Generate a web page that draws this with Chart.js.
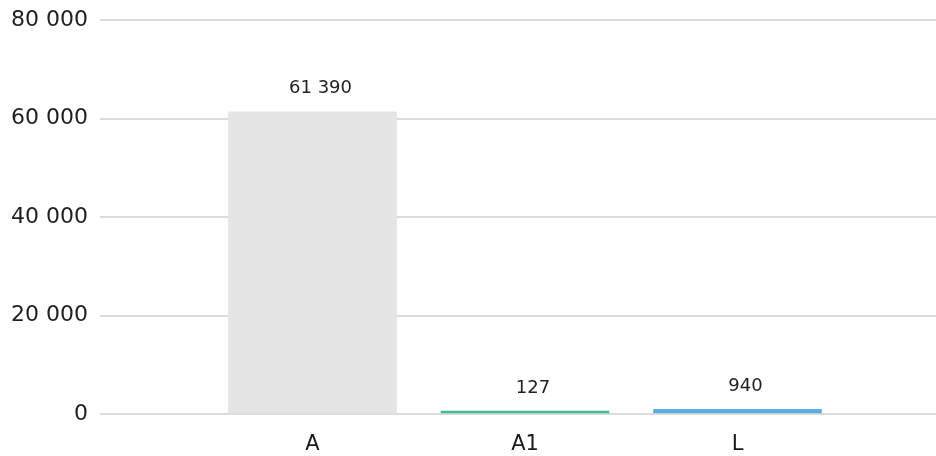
<!DOCTYPE html>
<html>
<head>
<meta charset="utf-8">
<script src="https://cdn.jsdelivr.net/npm/chart.js@4.4.1/dist/chart.umd.min.js"></script>
<style>
  html, body { margin: 0; padding: 0; background: #fff; overflow: hidden; }
  #wrap { position: relative; width: 936px; height: 456px; overflow: hidden; }
  #barChart { position: absolute; left: 0; top: -5px; width: 960px; height: 461px; max-width: none; }
</style>
</head>
<body>
<div id="wrap"><canvas id="barChart" width="960" height="461"></canvas></div>
<script>
// blank slots at both ends keep the bars spaced like the original
var categories = ["", "A", "A1", "L", ""];
var values = [null, 61390, 127, 940, null];
var barColors = ["#e5e5e5", "#e5e5e5", "#45bb9b", "#5aafe2", "#e5e5e5"];
var yTicks = [0, 20000, 40000, 60000, 80000];

function fmt(n) {
    return String(n).replace(/\B(?=(\d{3})+(?!\d))/g, " ");
}

var valueLabels = {
    id: "valueLabels",
    afterDatasetsDraw: function(chart) {
        var ctx = chart.ctx;
        var meta = chart.getDatasetMeta(0);
        ctx.save();
        ctx.font = "18px 'DejaVu Sans'";
        ctx.fillStyle = "#222";
        ctx.textAlign = "center";
        ctx.textBaseline = "bottom";
        meta.data.forEach(function(bar, i) {
            var v = values[i];
            if (v == null) return;
            ctx.fillText(fmt(v), bar.x + 8, bar.y - 14);
        });
        ctx.restore();
    }
};

var ctx = document.getElementById("barChart");

var myChart = new Chart(ctx, {
    type: "bar",
    data: {
        labels: categories,
        datasets: [{
            label: "",
            data: values,
            backgroundColor: barColors,
            borderWidth: 0,
            barThickness: 168,
            minBarLength: 3
        }]
    },
    options: {
        responsive: false,
        animation: false,
        layout: { padding: { top: 14, left: 0, right: 0, bottom: 0 } },
        plugins: {
            legend: { display: false },
            tooltip: { enabled: false }
        },
        scales: {
            x: {
                offset: false,
                grid: { display: false },
                border: { display: false },
                ticks: {
                    color: "#1a1a1a",
                    font: { family: "'DejaVu Sans'", size: 21 },
                    padding: 10,
                    maxRotation: 0
                },
                afterFit: function(scale) { scale.height = 42; }
            },
            y: {
                min: 0,
                max: 80000,
                afterBuildTicks: function(scale) {
                    scale.ticks = yTicks.map(function(v) { return { value: v }; });
                },
                grid: { color: "#dcdcdc", lineWidth: 2, drawTicks: false },
                border: { display: false },
                ticks: {
                    color: "#1f1f1f",
                    font: { family: "'DejaVu Sans'", size: 22 },
                    padding: 12,
                    callback: function(v) { return fmt(v); }
                },
                afterFit: function(scale) { scale.width = 100; }
            }
        }
    },
    plugins: [valueLabels]
});
</script>
</body>
</html>
